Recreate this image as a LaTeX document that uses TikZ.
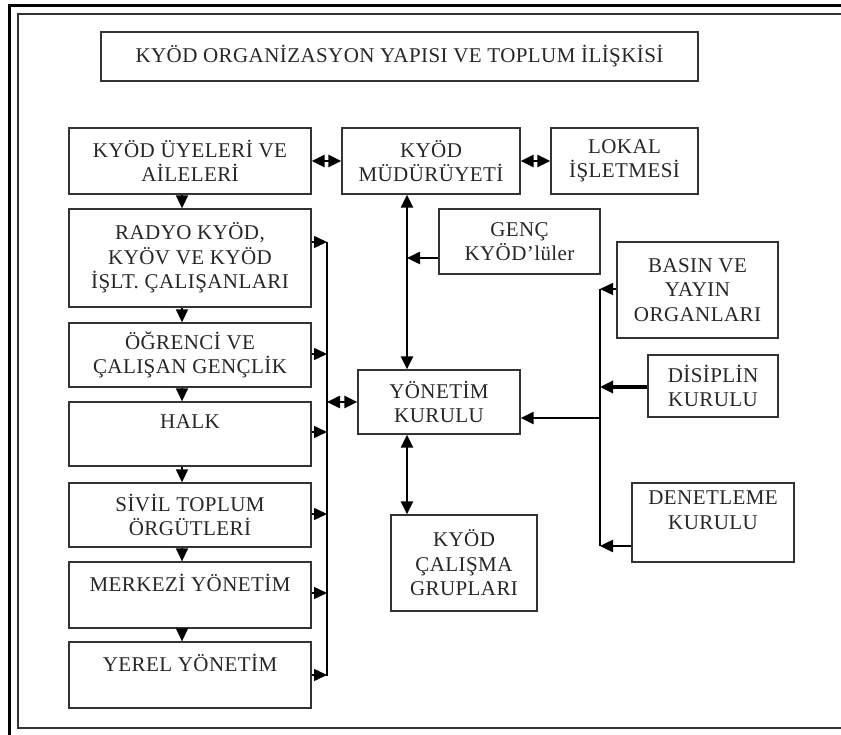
\documentclass[tikz,border=0pt]{standalone}
\usepackage{fontspec}
\setmainfont[LetterSpace=2]{Liberation Serif}
\usetikzlibrary{arrows.meta}
\definecolor{boxgray}{HTML}{333333}
\definecolor{txtgray}{HTML}{262626}
\tikzset{
  x=1pt, y=-1pt,
  box/.style={draw=boxgray, line width=1.3pt, rectangle, inner sep=0pt, align=center,
    text=txtgray, font=\fontsize{21}{24.5}\selectfont},
  tip/.style={-{Triangle[length=13pt,width=12pt]}},
  dtip/.style={{Triangle[length=13pt,width=12pt]}-{Triangle[length=13pt,width=12pt]}},
  thinarr/.style={line width=1.5pt},
  thickarr/.style={line width=2.5pt},
}
\begin{document}
\begin{tikzpicture}
\useasboundingbox (0,0) rectangle (841,735);
% frames
\draw[line width=3pt, black] (9,735) -- (9,6) -- (841,6);
\draw[line width=1.5pt, boxgray] (841,728) -- (18,728) -- (18,14) -- (841,14);

% boxes
\node[box, minimum width=597pt, minimum height=49pt] (title) at (399.5,56.5) {KYÖD ORGANİZASYON YAPISI VE TOPLUM İLİŞKİSİ};
\node[box, minimum width=242pt, minimum height=66pt] (uye) at (190,161) {KYÖD ÜYELERİ VE\\AİLELERİ};
\node[box, minimum width=178pt, minimum height=66pt] (mud) at (431,161) {KYÖD\\MÜDÜRÜYETİ};
\node[box, minimum width=147pt, minimum height=66pt] (lok) at (624.5,161) {LOKAL\\İŞLETMESİ};
\node[box, minimum width=242pt, minimum height=98pt] (radyo) at (190,258) {RADYO KYÖD,\\KYÖV VE KYÖD\\İŞLT. ÇALIŞANLARI};
\node[box, minimum width=242pt, minimum height=64pt] (ogr) at (190,355) {ÖĞRENCİ VE\\ÇALIŞAN GENÇLİK};
\node[box, minimum width=242pt, minimum height=64pt] (halk) at (190,434) {HALK\\\mbox{}};
\node[box, minimum width=242pt, minimum height=64pt] (sivil) at (190,515) {SİVİL TOPLUM\\ÖRGÜTLERİ};
\node[box, minimum width=242pt, minimum height=66pt] (merk) at (190,595) {MERKEZİ YÖNETİM\\\mbox{}};
\node[box, minimum width=242pt, minimum height=66pt] (yerel) at (190,675) {YEREL YÖNETİM\\\mbox{}};
\node[box, minimum width=161pt, minimum height=65pt] (genc) at (519.5,241.5) {GENÇ\\KYÖD’lüler};
\node[box, minimum width=162pt, minimum height=64pt] (yon) at (439,402) {YÖNETİM\\KURULU};
\node[box, minimum width=146pt, minimum height=96pt] (cal) at (464,563) {KYÖD\\ÇALIŞMA\\GRUPLARI};
\node[box, minimum width=161pt, minimum height=96pt] (basin) at (697.5,290) {BASIN VE\\YAYIN\\ORGANLARI};
\node[box, minimum width=130pt, minimum height=62pt] (disip) at (713,386) {DİSİPLİN\\KURULU};
\node[box, minimum width=162pt, minimum height=79pt] (denet) at (713,522.5) {DENETLEME\\KURULU\\\mbox{}};

% helper coordinates
\coordinate (bt) at (327,242);
\coordinate (bb) at (327,676);
\coordinate (vx) at (407,0);
\coordinate (gy) at (407,258);
\coordinate (rt) at (600,289);
\coordinate (rbb) at (600,546);
\coordinate (ry) at (600,418);

% top row double arrows
\draw[thickarr, dtip] (uye.east) -- (mud.west);
\draw[thickarr, dtip] (mud.east) -- (lok.west);

% left column down arrows
\foreach \a/\b in {uye/radyo, radyo/ogr, ogr/halk, halk/sivil, sivil/merk, merk/yerel}
  \draw[thinarr, tip] ([xshift=-8pt]\a.south) -- ([xshift=-8pt]\b.north);

% left bus
\draw[thinarr] (bt) -- (bb);
\draw[thinarr, tip] (radyo.east |- bt) -- (bt);
\foreach \n in {ogr, sivil}
  \draw[thinarr, tip] ([yshift=1pt]\n.east) -- ([yshift=1pt]\n.east -| bt);
\foreach \n in {halk, merk}
  \draw[thinarr, tip] ([yshift=2pt]\n.east) -- ([yshift=2pt]\n.east -| bt);
\draw[thinarr, tip] (yerel.east) -- (yerel.east -| bt);
\draw[thickarr, dtip] (yon.west -| bt) -- (yon.west);

% central vertical
\draw[thickarr, dtip] (mud.south -| vx) -- (yon.north -| vx);
\draw[thickarr, tip] (genc.west |- gy) -- (gy);
\draw[thickarr, dtip] (yon.south -| vx) -- (cal.north -| vx);

% right bus
\draw[thinarr] (rt) -- (rbb);
\draw[thinarr, tip] (basin.west |- rt) -- (rt);
\draw[line width=3.2pt, tip] ([yshift=-1pt]disip.west) -- ([yshift=-1pt]disip.west -| rt);
\draw[thickarr, tip] (denet.west |- rbb) -- (rbb);
\draw[thickarr, tip] (ry) -- (yon.east |- ry);
\end{tikzpicture}
\end{document}
